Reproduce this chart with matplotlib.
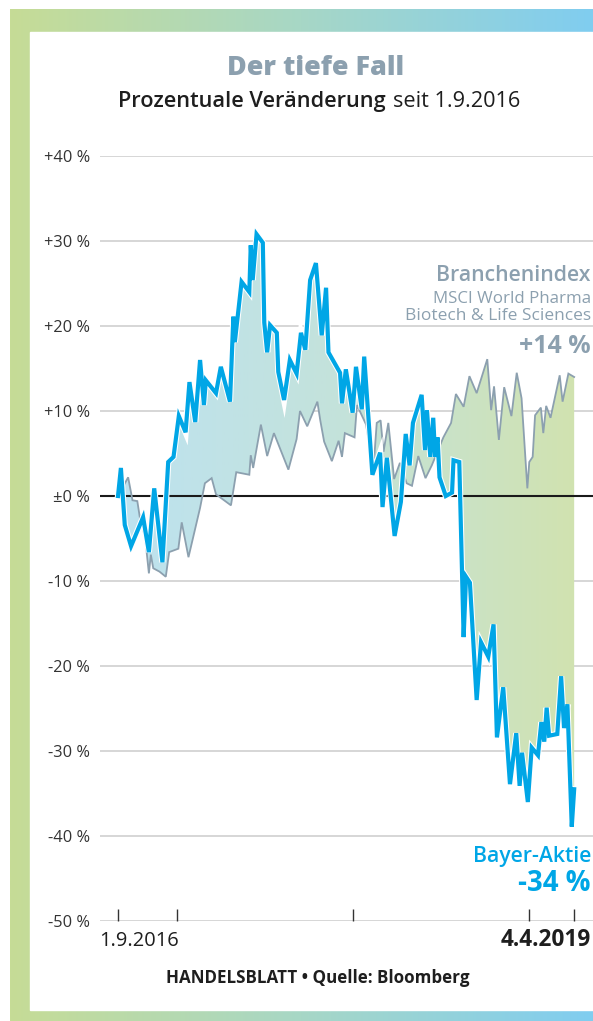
import numpy as np
import matplotlib.pyplot as plt
import matplotlib.patheffects as pe
from matplotlib.colors import LinearSegmentedColormap
from matplotlib.patches import Rectangle

# -----------------------------------------------------
# DATA  (days since 1.9.2016, percent change)
# -----------------------------------------------------
bayer_days = [0, 6, 14, 27, 52, 64, 75, 92, 104, 115, 126, 140, 148, 160, 170,
              178, 182, 203, 213, 232, 239, 242, 256, 272, 275, 279, 287, 300,
              303, 309, 315, 329, 332, 344, 356, 370, 379, 388, 398, 410, 422,
              431, 436, 460, 464, 472, 486, 493, 505, 510, 527, 543, 548, 557,
              573, 586, 596, 604, 611, 629, 636, 640, 647, 653, 657, 662, 666,
              679, 692, 695, 707, 716, 721, 729, 743, 752, 767, 778, 785, 798,
              812, 825, 832, 837, 849, 857, 870, 877, 883, 888, 893, 910, 918,
              924, 931, 940, 945]
bayer_pct = [0.0, 3.3, -3.4, -5.9, -2.5, -6.6, 0.9, -7.8, 4.0, 4.6, 9.4, 7.5,
             13.4, 8.7, 16.0, 10.7, 13.6, 12.1, 15.2, 11.1, 21.1, 18.1, 25.2,
             24.0, 29.5, 25.4, 30.8, 29.8, 20.4, 16.9, 20.1, 19.2, 14.6, 11.3,
             16.0, 14.4, 19.2, 17.2, 25.4, 27.4, 18.9, 24.5, 16.9, 14.5, 10.9,
             14.9, 9.8, 15.2, 10.2, 16.4, 2.5, 5.1, -1.3, 4.5, -4.7, -0.7, 7.3,
             3.6, 8.6, 11.9, 5.4, 10.1, 4.6, 9.2, 4.6, 6.9, 2.2, 0.0, 0.4, 4.2,
             4.0, -16.6, -9.5, -10.2, -24.0, -17.2, -18.9, -15.1, -28.4, -22.5,
             -33.9, -27.9, -34.1, -30.2, -36.0, -29.6, -30.5, -26.6, -28.9,
             -24.9, -28.2, -28.0, -21.2, -27.3, -24.5, -38.9, -34.5]

index_days = [0, 21, 30, 40, 46, 56, 64, 68, 73, 86, 99, 106, 125, 132, 146,
              170, 180, 194, 203, 234, 245, 272, 275, 280, 296, 309, 323, 353,
              370, 377, 392, 413, 419, 427, 443, 457, 464, 470, 490, 495, 514,
              529, 536, 544, 550, 560, 572, 584, 598, 609, 622, 637, 650, 674,
              690, 700, 716, 728, 743, 765, 773, 779, 789, 800, 815, 826, 836,
              848, 852, 859, 864, 876, 881, 887, 896, 915, 921, 933, 945]
index_pct = [0.0, 2.2, -0.5, -0.6, -2.8, -4.8, -9.1, -6.9, -8.5, -8.9, -9.5,
             -6.6, -6.2, -3.1, -7.2, -1.4, 1.5, 2.1, 0.2, -1.1, 2.8, 2.5, 4.8,
             3.3, 8.4, 4.7, 7.4, 3.1, 6.7, 10.0, 8.2, 11.1, 8.9, 6.4, 4.1, 6.5,
             4.6, 7.4, 6.9, 10.7, 8.4, 3.1, 8.6, 8.9, 5.2, 8.6, 2.0, 3.9, 1.5,
             1.2, 4.7, 2.1, 3.6, 6.9, 8.6, 12.0, 10.5, 14.1, 12.1, 16.1, 10.1,
             12.9, 6.6, 12.8, 9.4, 14.5, 11.5, 0.9, 4.0, 4.6, 9.5, 10.4, 7.4,
             10.6, 9.2, 14.2, 11.1, 14.4, 14.0]

y_ticks = [40, 30, 20, 10, 0, -10, -20, -30, -40, -50]
y_labels = ["+40 %", "+30 %", "+20 %", "+10 %", "±0 %",
            "-10 %", "-20 %", "-30 %", "-40 %", "-50 %"]
# 1.9.2016, 1.1.2017, 1.1.2018, 1.1.2019, 4.4.2019
x_ticks = [0, 122, 487, 852, 945]

BLUE = "#00a6e6"
GREYBLUE = "#8ca0af"
DARK = "#1e1e1e"
FONT = ["Open Sans", "DejaVu Sans"]

W, H = 593, 1021


def gradient_cmap(colors):
    return LinearSegmentedColormap.from_list("g", colors)


def fit(txt, width):
    # scale the font so the text spans the given pixel width
    r = fig.canvas.get_renderer()
    w = txt.get_window_extent(r).width
    txt.set_fontsize(txt.get_fontsize() * width / w)
    return txt


fig = plt.figure(figsize=(W / 100, H / 100), dpi=100)

# -----------------------------------------------------
# FRAME (pixel coordinates)
# -----------------------------------------------------
bg = fig.add_axes([0, 0, 1, 1])
bg.set_xlim(0, W)
bg.set_ylim(H, 0)
bg.axis("off")
frame_cmap = gradient_cmap(["#c6dc96", "#a7d7c6", "#80cdf0"])
bg.imshow(np.linspace(0, 1, 256)[None, :], cmap=frame_cmap, aspect="auto",
          extent=(10, W, H, 10), zorder=0)
bg.add_patch(Rectangle((30, 32), W - 30, 1010 - 32, color="white", zorder=1))
bg.set_xlim(0, W)
bg.set_ylim(H, 0)

# -----------------------------------------------------
# CHART
# -----------------------------------------------------
ax = fig.add_axes([100 / W, 100 / H, (W - 100) / W, 765 / H])
ax.patch.set_alpha(0)
for s in ax.spines.values():
    s.set_visible(False)

for t in y_ticks:
    if t != 0:
        ax.axhline(t, color="#cfcfcf", lw=1.2, zorder=0.5)
ax.axhline(0, color="#1a1a1a", lw=1.5, zorder=2.5)

# gradient fill between the two series
poly = ax.fill(np.r_[bayer_days, index_days[::-1]],
               np.r_[bayer_pct, index_pct[::-1]], color="none")[0]
fill_cmap = gradient_cmap(["#bde2f0", "#c4e2da", "#d1e3b0"])
im = ax.imshow(np.linspace(0, 1, 256)[None, :], cmap=fill_cmap, aspect="auto",
               extent=(0, 945, -50, 40), zorder=1)
im.set_clip_path(poly)
ax.set_xlim(-37.3, 984)
ax.set_ylim(-50, 40)

ax.plot(index_days, index_pct, color=GREYBLUE, lw=1.3, zorder=3,
        solid_joinstyle="miter")
ax.plot(bayer_days, bayer_pct, color=BLUE, lw=3.0, zorder=4,
        solid_joinstyle="miter",
        path_effects=[pe.Stroke(linewidth=4.5, foreground="white"), pe.Normal()])

ax.set_yticks(y_ticks)
ylabs = ax.set_yticklabels(y_labels, fontsize=9.5, color="#333333", family=FONT)
ax.tick_params(axis="y", length=0, pad=7)
ax.set_xticks(x_ticks)
ax.set_xticklabels([])
ax.tick_params(axis="x", direction="in", length=9, width=1, color="#333333")

fig.canvas.draw()
size = ylabs[0].get_fontsize() * 46 / ylabs[0].get_window_extent().width
for lab in ylabs:
    lab.set_fontsize(size)

# -----------------------------------------------------
# TEXT
# -----------------------------------------------------
fit(bg.text(316, 75, "Der tiefe Fall", ha="center", va="baseline",
            fontsize=19, fontweight="heavy", color=GREYBLUE, family=FONT,
            zorder=5), 177)
fit(bg.text(118, 107, "Prozentuale Veränderung", ha="left", va="baseline",
            fontsize=12.5, fontweight="semibold", color=DARK, family=FONT,
            zorder=5), 268)
fit(bg.text(393, 107, "seit 1.9.2016", ha="left", va="baseline",
            fontsize=12.5, color=DARK, family=FONT, zorder=5), 127)

fit(bg.text(591, 281, "Branchenindex", ha="right", va="baseline", fontsize=14,
            color=GREYBLUE, family=FONT, fontweight="semibold", zorder=5), 156)
fit(bg.text(591, 303, "MSCI World Pharma", ha="right", va="baseline",
            fontsize=10, color=GREYBLUE, family=FONT, zorder=5), 158)
fit(bg.text(591, 320, "Biotech & Life Sciences", ha="right", va="baseline",
            fontsize=10, color=GREYBLUE, family=FONT, zorder=5), 185)
fit(bg.text(591, 353, "+14 %", ha="right", va="baseline", fontsize=17,
            fontweight="bold", color=GREYBLUE, family=FONT, zorder=5), 72)

fit(bg.text(591, 862, "Bayer-Aktie", ha="right", va="baseline", fontsize=14,
            color=BLUE, family=FONT, fontweight="semibold", zorder=5), 120)
fit(bg.text(591, 891, "-34 %", ha="right", va="baseline", fontsize=17,
            fontweight="bold", color=BLUE, family=FONT, zorder=5), 73)

fit(bg.text(99, 946, "1.9.2016", ha="left", va="baseline", fontsize=13,
            color=DARK, family=FONT, zorder=5), 79)
fit(bg.text(591, 946, "4.4.2019", ha="right", va="baseline", fontsize=13,
            fontweight="bold", color=DARK, family=FONT, zorder=5), 90)

fit(bg.text(318, 983, "HANDELSBLATT • Quelle: Bloomberg", ha="center",
            va="baseline", fontsize=9.5, fontweight="bold", color=DARK,
            family=FONT, zorder=5), 305)

fig.savefig("out.png", dpi=100)
